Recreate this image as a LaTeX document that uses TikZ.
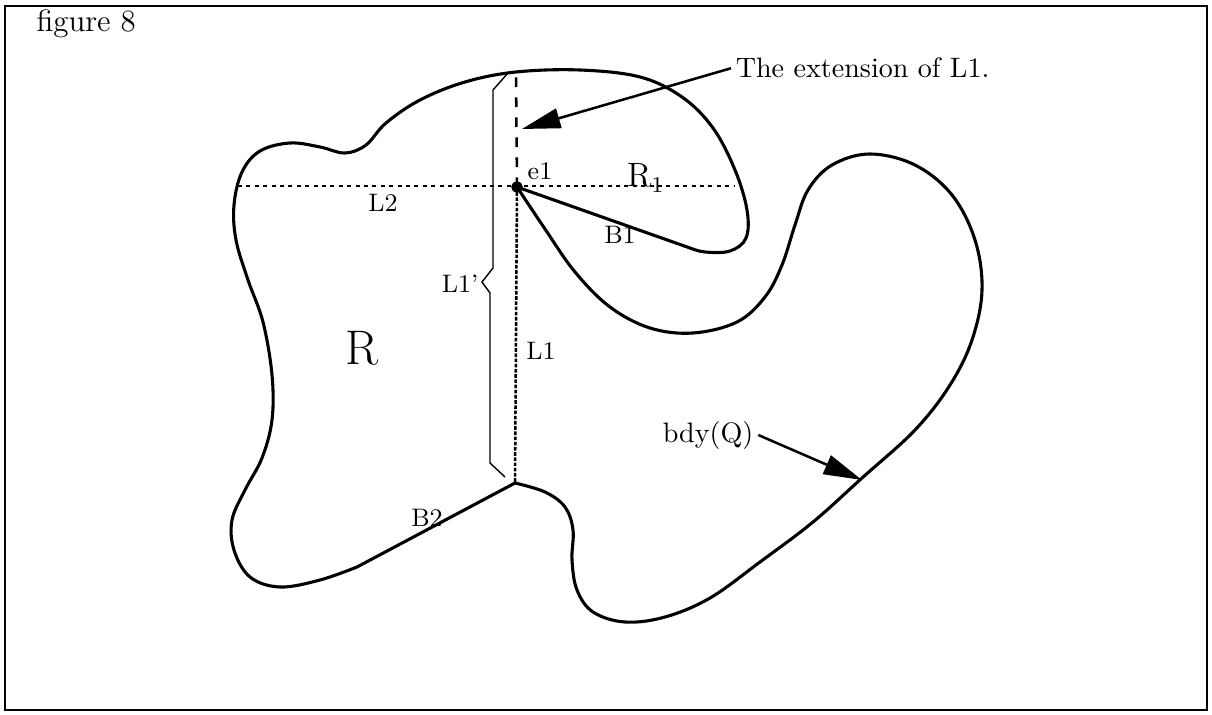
\documentclass[tikz,border=0pt]{standalone}
\usetikzlibrary{arrows.meta}
\begin{document}
\begin{tikzpicture}[
                x=0.125mm, y=-0.125mm,
                figEightFrame/.style={draw=black,line width=1pt},
                figEightBdy/.style={draw=black,line width=1.1pt,line join=round},
                figEightLTwo/.style={draw=black,line width=0.6pt,dash pattern=on 0.5mm off 0.55mm},
                figEightExt/.style={draw=black,line width=0.9pt,dash pattern=on 1.2mm off 1.3mm},
                figEightLOne/.style={draw=black,line width=0.9pt,dash pattern=on 0.45mm off 0.2mm},
                figEightBrace/.style={draw=black,line width=0.5pt},
                figEightPointer/.style={draw=black,line width=0.9pt,
                                        -{Triangle[length=4.8mm,width=2.5mm]}},
                figEightVertex/.style={circle,fill=black,draw=black,
                                       minimum size=1.3mm,inner sep=0pt},
                figEightLabel/.style={inner sep=0pt,font=\small}]
    \useasboundingbox (0,0) rectangle (1212,715);
    \draw[figEightFrame] (5,6) rectangle (1207,710);
    \node[anchor=base west,inner sep=0pt,font=\fontsize{11}{13}\selectfont] (title) at (36,32) {figure 8};
    % points on the boundary
    \coordinate (e1) at (517,187);
    \coordinate (v) at (515,483);
    \coordinate (top) at (516,74);
    \coordinate (bTwo) at (357,567);
    \coordinate (lTwoW) at (238,186);
    \coordinate (lTwoE) at (735,186);
    % L2, L1 and its extension
    \draw[figEightLTwo] (lTwoW) -- (lTwoE);
    \draw[figEightLOne] (e1) -- (v);
    \draw[figEightExt] (e1) -- (top);
    % brace L1'
    \draw[figEightBrace] (508,73) -- (493,90) -- (493,268) -- (482,282)
                         -- (490,293) -- (490,463) -- (505,477);
    % bdy(Q)
    \draw[figEightBdy] (v) -- (bTwo)
        -- plot[smooth,tension=0.6] coordinates {(bTwo) (320,580) (280,587) (250,577)
            (234,550) (232,520) (245,490) (262,458) (272,420) (272,375) (263,322)
            (248,280) (236,240) (234,205) (242,172) (260,151) (290,143) (320,147)
            (345,153) (366,145) (386,123) (420,100) (465,82) (516,72) (580,70)
            (640,77) (682,97) (713,128) (735,170) (747,210) (746,238) (730,251)
            (705,252) (690,248)}
        -- (e1)
        -- plot[smooth,tension=0.6] coordinates {(e1) (545,229) (575,272) (610,307)
            (650,328) (693,333) (737,322) (765,297) (782,265) (795,225) (808,190)
            (832,165) (870,154) (915,165) (952,195) (975,240) (982,290) (972,340)
            (950,385) (915,430) (862,478) (813,522) (760,562) (710,598) (665,617)
            (625,622) (593,612) (577,590) (572,560) (573,530) (565,507) (545,492)
            (v)}
        -- cycle;
    \node[figEightVertex] (e1dot) at (e1) {};
    % labels
    \node[figEightLabel] (lblEOne) at (540,171) {e1};
    \node[figEightLabel] (lblLTwo) at (383,203) {L2};
    \node[figEightLabel] (lblLOne) at (541,351) {L1};
    \node[figEightLabel] (lblLOnePr) at (460,284) {L1\textquoteright};
    \node[figEightLabel] (lblBOne) at (620,235) {B1};
    \node[figEightLabel] (lblBTwo) at (427,518) {B2};
    \node[inner sep=0pt,font=\large] (lblROne) at (646,178) {R$_1$};
    \node[inner sep=0pt,font=\LARGE] (lblR) at (362,348) {R};
    % pointers
    \node[anchor=base west,inner sep=1.5pt] (extText) at (731,78) {The extension of L1.};
    \coordinate (extTip) at (522,129);
    \draw[figEightPointer] (extText.west) -- (extTip);
    \node[anchor=base west,inner sep=1.5pt] (bdyText) at (658,442) {bdy(Q)};
    \coordinate (bdyTip) at (862,480);
    \draw[figEightPointer] (bdyText.east) -- (bdyTip);
\end{tikzpicture}
\end{document}
